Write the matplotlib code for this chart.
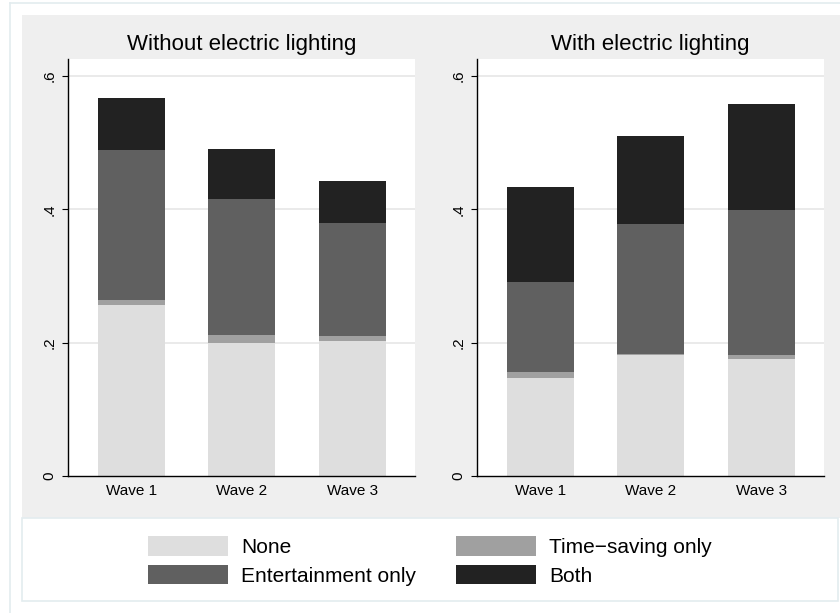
import matplotlib
matplotlib.use("Agg")
import matplotlib.pyplot as plt
from matplotlib.patches import Rectangle
from matplotlib.lines import Line2D
import numpy as np

plt.rcParams['font.family'] = ['Liberation Sans', 'DejaVu Sans']

# ---- data ----
waves = ["Wave 1", "Wave 2", "Wave 3"]
panels = ["Without electric lighting", "With electric lighting"]
categories = ["None", "Time\u2212saving only", "Entertainment only", "Both"]

# segment shares per wave (no electric lighting)
none_no = [0.256, 0.200, 0.203]
time_no = [0.008, 0.012, 0.0075]
ent_no = [0.225, 0.2035, 0.169]
both_no = [0.078, 0.075, 0.0635]

# segment shares per wave (with electric lighting)
none_el = [0.1475, 0.1815, 0.1755]
time_el = [0.009, 0.0015, 0.0065]
ent_el = [0.1345, 0.1955, 0.2175]
both_el = [0.143, 0.132, 0.1585]

yticks = [0, 0.2, 0.4, 0.6]
ytick_labels = ["0", ".2", ".4", ".6"]

colors = ["#dedede", "#a0a0a0", "#606060", "#222222"]

W, H = 840, 613
fig = plt.figure(figsize=(W / 100, H / 100), dpi=100)
fig.patch.set_facecolor("white")

def fx(px):
    return px / W

def fy(py):
    return 1 - py / H

# outer border (left/top visible)
fig.add_artist(Line2D([fx(9.5), fx(9.5)], [0, fy(3)], color="#e3ecef", lw=1.2))
fig.add_artist(Line2D([fx(9.5), 1], [fy(3), fy(3)], color="#e3ecef", lw=1.2))
# gray panel region
fig.add_artist(Rectangle((fx(22), fy(518)), 1 - fx(22), fy(15) - fy(518),
                         facecolor="#efefef", edgecolor="none", zorder=0))
# legend box
fig.add_artist(Rectangle((fx(22), fy(601)), fx(838) - fx(22), fy(518) - fy(601),
                         facecolor="white", edgecolor="#e3ecef", lw=1.2, zorder=0))

data = [
    [none_no, time_no, ent_no, both_no],
    [none_el, time_el, ent_el, both_el],
]

ax_left_px = [68, 477]
ax_w_px = 347
handles = None
for i, (title, series) in enumerate(zip(panels, data)):
    ax = fig.add_axes([fx(ax_left_px[i]), fy(476), ax_w_px / W, fy(59) - fy(476)])
    ax.set_facecolor("white")
    x = np.arange(1, len(waves) + 1)
    bottom = np.zeros(len(waves))
    hs = []
    for vals, c, lab in zip(series, colors, categories):
        b = ax.bar(x, vals, width=0.606, bottom=bottom, color=c, edgecolor="none",
                   label=lab, zorder=2)
        hs.append(b)
        bottom = bottom + np.array(vals)
    if handles is None:
        handles = hs
    ax.set_xlim(1 - 0.573, 3 + 0.567)
    ax.set_ylim(0, 0.6255)
    ax.set_yticks(yticks)
    ax.set_yticklabels(ytick_labels, rotation=90, va="center", fontsize=11)
    ax.set_xticks(x)
    ax.set_xticklabels(waves, fontsize=11)
    ax.tick_params(axis="x", length=0, pad=6)
    ax.tick_params(axis="y", length=4.3, width=0.8, pad=4, direction="out")
    for gy in yticks[1:]:
        ax.axhline(gy, color="#e8e8e8", lw=1.3, zorder=1)
    ax.spines["top"].set_visible(False)
    ax.spines["right"].set_visible(False)
    ax.spines["left"].set_linewidth(1.0)
    ax.spines["bottom"].set_linewidth(1.0)
    ax.set_title(title, fontsize=16, pad=6.5)

# legend: order None, Time-saving / Entertainment, Both in rows
order = [0, 2, 1, 3]
leg = fig.legend([handles[k] for k in order], [categories[k] for k in order],
                 ncol=2, frameon=False, fontsize=15,
                 loc="center", bbox_to_anchor=(fx(430), fy(561)),
                 handlelength=3.85, handleheight=1.04, handletextpad=0.62,
                 columnspacing=1.9, labelspacing=0.38, borderpad=0)

fig.savefig("out.png", dpi=100)
